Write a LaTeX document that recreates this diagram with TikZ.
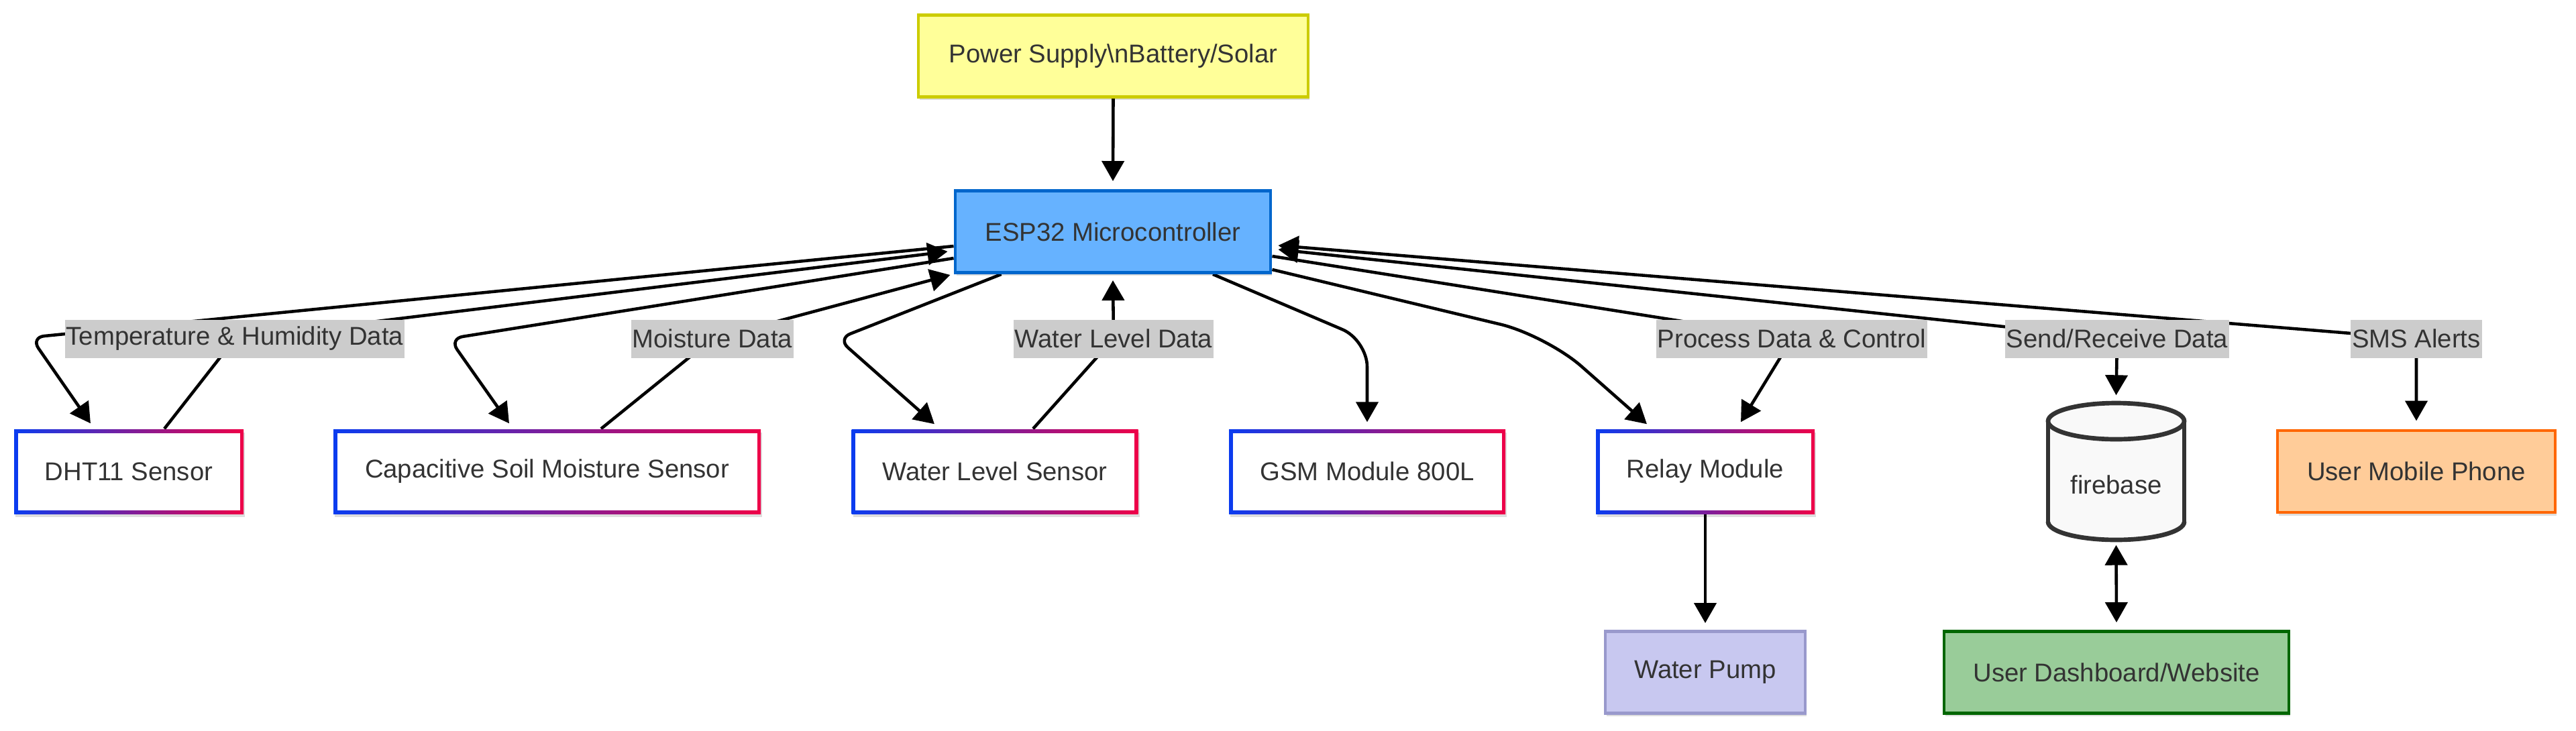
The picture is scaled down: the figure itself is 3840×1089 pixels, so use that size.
\documentclass[tikz,border=0pt]{standalone}
\usepackage{fontspec}
\setmainfont{Liberation Sans}
\usetikzlibrary{arrows.meta,shadows,backgrounds}
\definecolor{txt}{HTML}{333333}
\definecolor{lblbg}{HTML}{CCCCCC}
\definecolor{gblue}{HTML}{0A3CF0}
\definecolor{gred}{HTML}{EE0048}
\definecolor{pwrF}{HTML}{FFFF99}
\definecolor{pwrD}{HTML}{CCCC00}
\definecolor{espF}{HTML}{66B2FF}
\definecolor{espD}{HTML}{0066CC}
\definecolor{phF}{HTML}{FFCC99}
\definecolor{phD}{HTML}{FF6600}
\definecolor{puF}{HTML}{C8C8F0}
\definecolor{puD}{HTML}{9999CC}
\definecolor{daF}{HTML}{99CC99}
\definecolor{daD}{HTML}{006600}
\definecolor{fbF}{HTML}{F9F9F9}
\definecolor{fbD}{HTML}{333333}
\begin{document}
\begin{tikzpicture}[x=0.1mm,y=-0.1mm,
  dfont/.style={font=\fontsize{10.9}{13}\selectfont},
  box/.style={rectangle,inner sep=0pt,minimum height=12.6mm,text=txt,dfont,
    drop shadow={shadow xshift=0.2mm,shadow yshift=-0.45mm,opacity=0.13,fill=black}},
  fbox/.style 2 args={box,draw=#1,fill=#2,line width=1.4pt,minimum height=12.2mm},
  gbox/.style={box, path picture={
     \shade[left color=gblue,right color=gred] (path picture bounding box.south west) rectangle (path picture bounding box.north east);
     \fill[white] ([shift={(0.55mm,0.55mm)}]path picture bounding box.south west) rectangle ([shift={(-0.55mm,-0.55mm)}]path picture bounding box.north east);}},
  lbl/.style={rectangle,fill=lblbg,text=txt,dfont,inner xsep=0.2mm,inner ysep=0pt,minimum height=5.7mm},
  edge/.style={line width=1.3pt,draw=black,-{Triangle[length=3mm,width=3.3mm]}},
  edge2/.style={line width=1.3pt,draw=black,{Triangle[length=3mm,width=3.3mm]}-{Triangle[length=3mm,width=3.3mm]}},
  fbline/.style={draw=fbD,line width=1.9pt},
]
\useasboundingbox (0,0) rectangle (3840,1089);

% nodes
\node[fbox={pwrD}{pwrF},minimum width=58.1mm] (pwr) at (1659.5,83.5) {Power Supply\textbackslash nBattery/Solar};
\node[fbox={espD}{espF},minimum width=47.0mm] (esp) at (1659,345.5) {ESP32 Microcontroller};
\node[gbox,minimum width=34.2mm] (dht) at (192,703) {DHT11 Sensor};
\node[gbox,minimum width=63.7mm] (cap) at (815.5,703) {Capacitive Soil Moisture Sensor};
\node[gbox,minimum width=42.7mm] (wl) at (1483,703) {Water Level Sensor};
\node[gbox,minimum width=41.2mm] (gsm) at (2038,703) {GSM Module 800L};
\node[gbox,minimum width=32.6mm] (relay) at (2542,703) {Relay Module};
\node[fbox={phD}{phF},minimum width=41.4mm] (ph) at (3602,703) {User Mobile Phone};
\node[fbox={puD}{puF},minimum width=29.8mm] (pump) at (2542,1002.5) {Water Pump};
\node[fbox={daD}{daF},minimum width=51.4mm] (dash) at (3155,1002.5) {User Dashboard/Website};

% firebase cylinder
\fill[fbF] (3053,628) rectangle (3256,778);
\fill[fbF] (3154.5,778) ellipse [x radius=10.15mm, y radius=2.7mm];
\draw[fbline] (3053,628) -- (3053,778) (3256,628) -- (3256,778);
\begin{scope}
\clip (3030,778) rectangle (3280,830);
\draw[fbline] (3154.5,778) ellipse [x radius=10.15mm, y radius=2.7mm];
\end{scope}
\filldraw[fbline,fill=fbF] (3154.5,628) ellipse [x radius=10.15mm, y radius=2.7mm];
\node[rectangle,inner sep=0pt,minimum width=20.3mm,minimum height=20.4mm] (fb) at (3154.5,703) {};
\node[text=txt,dfont,inner sep=0pt] (fbt) at (3154.5,723) {firebase};

% labels
\node[lbl] (lTH) at (350,505) {Temperature \& Humidity Data};
\node[lbl] (lMo) at (1062,505) {Moisture Data};
\node[lbl] (lWL) at (1660,505) {Water Level Data};
\node[lbl] (lPr) at (2671,505) {Process Data \& Control};
\node[lbl] (lSe) at (3156,505) {Send/Receive Data};
\node[lbl] (lSM) at (3602,505) {SMS Alerts};

\begin{pgfonlayer}{background}
\fill[white] (0,0) rectangle (3840,1089);
\coordinate (cDHT) at (46,503);
\coordinate (cCAP) at (670,505);
\coordinate (cWL) at (1249,505);
\coordinate (cGSM) at (2038,507);
\coordinate (cREL) at (2305,500);

\draw[edge] (pwr.south) -- ([shift={(0,-12)}]esp.north);

\draw[edge,rounded corners=2mm] ([shift={(0,21.5)}]esp.west) -- (cDHT) -- ([shift={(-57,-8)}]dht.north);
\draw[edge] ([shift={(53,0)}]dht.north) -- (lTH.center) -- ([shift={(-9,29.5)}]esp.west);

\draw[edge,rounded corners=2mm] ([shift={(0,39.5)}]esp.west) -- (cCAP) -- ([shift={(-56.5,-8)}]cap.north);
\draw[edge] ([shift={(80.5,0)}]cap.north) -- (lMo.center) -- ([shift={(-5,1)}]esp.south west);

\draw[edge,rounded corners=2mm] ([shift={(71,0)}]esp.south west) -- (cWL) -- ([shift={(-90,-7)}]wl.north);
\draw[edge] ([shift={(57,0)}]wl.north) -- (lWL.center) -- ([shift={(0,9)}]esp.south);

\draw[edge,rounded corners=4mm] ([shift={(149,0)}]esp.south) -- (cGSM) -- ([shift={(0,-10)}]gsm.north);

\draw[edge,rounded corners=7mm] ([shift={(0,-7)}]esp.south east) -- (cREL) -- ([shift={(-87,-7)}]relay.north);
\draw[edge] ([shift={(0,36.5)}]esp.east) -- (lPr.center) -- ([shift={(53,-10)}]relay.north);

\draw[edge2] ([shift={(9,26.5)}]esp.east) -- (lSe.center) -- ([shift={(0,-11)}]fb.north);
\draw[edge2] ([shift={(9,20.5)}]esp.east) -- (lSM.center) -- ([shift={(0,-12)}]ph.north);

\draw[edge] (relay.south) -- ([shift={(0,-10)}]pump.north);
\draw[edge2] ([shift={(0,7)}]fb.south) -- ([shift={(0,-11)}]dash.north);
\end{pgfonlayer}
\end{tikzpicture}
\end{document}
